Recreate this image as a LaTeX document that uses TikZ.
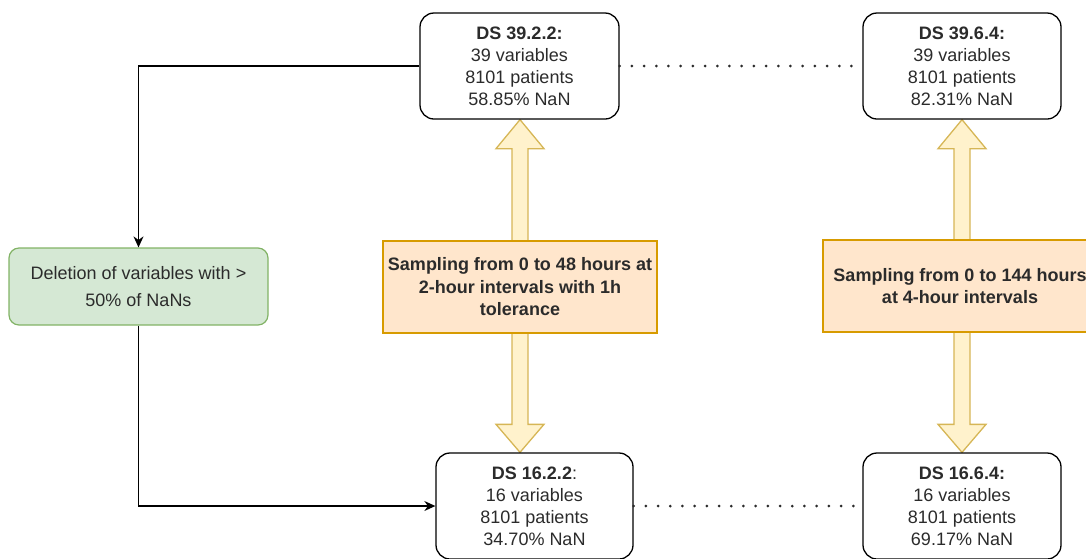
\documentclass[tikz,border=0pt]{standalone}
\usepackage{fontspec}
\setmainfont{Liberation Sans}
\usetikzlibrary{calc,arrows.meta,backgrounds}
\definecolor{txt}{HTML}{2B2B2B}
\definecolor{greenfill}{HTML}{D5E8D4}
\definecolor{greenline}{HTML}{82B366}
\definecolor{orangefill}{HTML}{FFE6CC}
\definecolor{orangeline}{HTML}{D79B00}
\definecolor{yellowfill}{HTML}{FFF2CC}
\definecolor{yellowline}{HTML}{D6B656}
\begin{document}
\begin{tikzpicture}[x=1pt,y=-1pt,
  dsbox/.style={draw=black, line width=1.3pt, rounded corners=14pt, fill=white,
    minimum height=106pt, align=center, text=txt, inner sep=0pt,
    font=\fontsize{18}{22}\selectfont},
  greenbox/.style={draw=greenline, line width=1.2pt, rounded corners=10pt, fill=greenfill,
    minimum width=259pt, minimum height=77pt, align=center, text=txt, inner sep=0pt,
    font=\fontsize{18}{27}\selectfont},
  samplebox/.style={draw=orangeline, line width=1.2pt, fill=orangefill,
    minimum width=274pt, minimum height=92pt, align=center, text=txt, inner sep=0pt,
    font=\fontsize{18}{22.5}\selectfont\bfseries},
  blk/.style={draw=yellowline, fill=yellowfill, line width=1.3pt, line join=miter},
  conn/.style={draw=black, line width=1.3pt, -{Stealth[length=11pt,width=10pt]}},
  dotline/.style={draw=txt, line width=3pt, dash pattern=on 0pt off 12.2pt, line cap=round}]
\useasboundingbox (0,0) rectangle (1086,558);
\clip (0,0) rectangle (1086,558);

% datasets
\node[dsbox, minimum width=199pt] (b1) at (519.5,66)
  {\textbf{DS 39.2.2:}\\39 variables\\8101 patients\\58.85\% NaN};
\node[dsbox, minimum width=198pt] (b2) at (962,66)
  {\textbf{DS 39.6.4:}\\39 variables\\8101 patients\\82.31\% NaN};
\node[dsbox, minimum width=197pt] (c1) at (534.5,506)
  {\textbf{DS 16.2.2}:\\16 variables\\8101 patients\\34.70\% NaN};
\node[dsbox, minimum width=198pt] (c2) at (962,506)
  {\textbf{DS 16.6.4:}\\16 variables\\8101 patients\\69.17\% NaN};

% variable filtering step
\node[greenbox] (g) at (138.5,286.5) {Deletion of variables with >\\50\% of NaNs};

% sampling steps
\node[samplebox] (o1) at (520,287)
  {Sampling from 0 to 48 hours at\\2-hour intervals with 1h\\tolerance};
\node[samplebox] (o2) at (960,286)
  {Sampling from 0 to 144 hours\\at 4-hour intervals};

% double block arrows behind the sampling boxes
\coordinate (t1) at (o1.center |- b1.south);
\coordinate (u1) at (o1.center |- c1.north);
\coordinate (t2) at (b2.south);
\coordinate (u2) at (c2.north);
\begin{scope}[on background layer]
\foreach \t/\u in {t1/u1, t2/u2} {
  \draw[blk] (\t) -- ++(24,29) -- ++(-16,0) -- ($(\u)+(8,-28)$) -- ++(16,0) -- (\u)
    -- ++(-24,-28) -- ++(16,0) -- ($(\t)+(-8,29)$) -- ++(-16,0) -- cycle;
}
\end{scope}

% flow connectors
\draw[conn] (b1.west) -| (g.north);
\draw[conn] (g.south) |- (c1.west);

% dotted links between sampling variants
\draw[dotline] (b1.east) -- (b2.west);
\draw[dotline] (c1.east) -- (c2.west);
\end{tikzpicture}
\end{document}
